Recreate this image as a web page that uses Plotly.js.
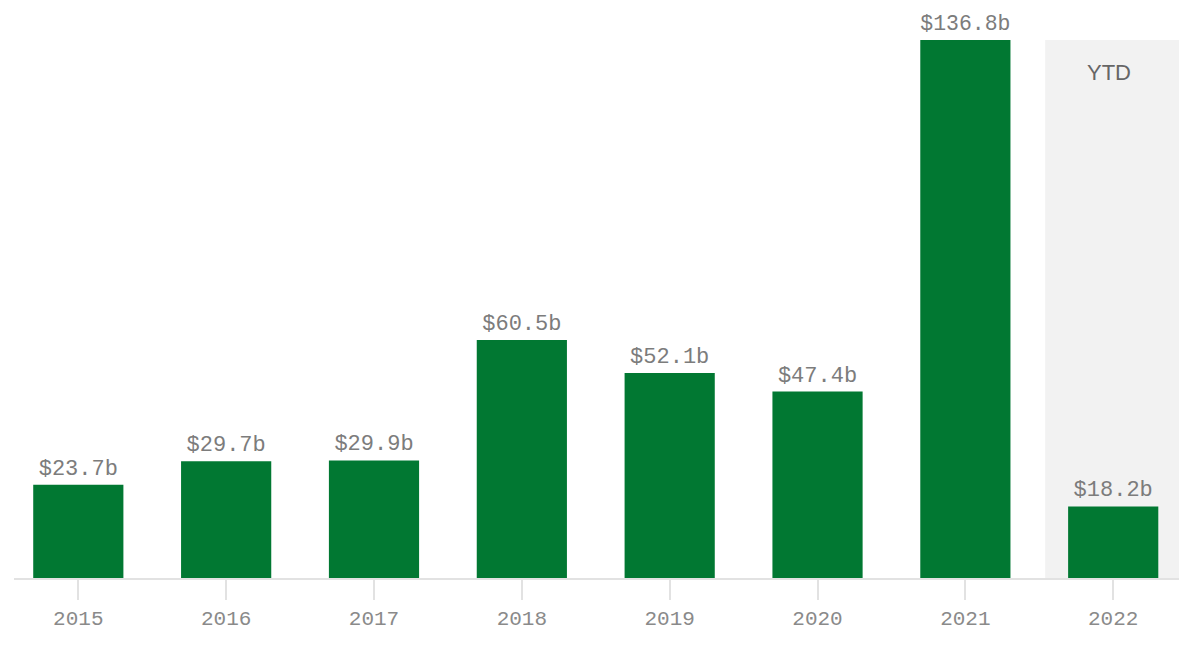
<!DOCTYPE html>
<html>
<head>
<meta charset="utf-8">
<script src="https://cdn.plot.ly/plotly-3.0.1.min.js"></script>
<style>html,body{margin:0;padding:0;background:#fff;}#chart{width:1200px;height:647px;}</style>
</head>
<body>
<div id="chart"></div>
<script>
const years = ["2015", "2016", "2017", "2018", "2019", "2020", "2021", "2022"];
const values = [23.7, 29.7, 29.9, 60.5, 52.1, 47.4, 136.8, 18.2];
const valueLabels = values.map(v => "$" + v.toFixed(1) + "b");
const ytdYear = "2022";
const ytdLabel = "YTD";

const trace = {
  type: "bar",
  x: years,
  y: values,
  text: valueLabels,
  textposition: "outside",
  cliponaxis: false,
  textfont: {family: "Liberation Mono, monospace", size: 22, color: "#7c7c7c"},
  marker: {color: "#017832"},
  width: 0.61,
  hoverinfo: "none"
};

const ytdIdx = years.indexOf(ytdYear);
const layout = {
  width: 1200, height: 647,
  margin: {l: 14, r: 21, t: 40, b: 69},
  paper_bgcolor: "#fff", plot_bgcolor: "rgba(0,0,0,0)",
  showlegend: false,
  xaxis: {
    type: "category",
    range: [-0.435, 7.445],
    showgrid: false, zeroline: false,
    showline: true, linecolor: "#e2e2e2", linewidth: 2,
    ticks: "outside", ticklen: 20, tickcolor: "#e2e2e2", tickwidth: 2,
    tickfont: {family: "Liberation Mono, monospace", size: 21, color: "#8a8a8a"}
  },
  yaxis: {
    range: [0, 136.8],
    visible: false, showgrid: false, zeroline: false, fixedrange: true
  },
  shapes: [{
    type: "rect", xref: "x", yref: "y", layer: "below",
    x0: ytdIdx - 0.46, x1: ytdIdx + 0.445, y0: 0, y1: 136.8,
    fillcolor: "#f2f2f2", line: {width: 0}
  }],
  annotations: [{
    xref: "x", yref: "y", x: ytdIdx - 0.03, y: 128.6,
    text: ytdLabel, showarrow: false,
    font: {family: "Liberation Sans, Arial, sans-serif", size: 22, color: "#666"}
  }]
};

Plotly.newPlot("chart", [trace], layout, {displayModeBar: false, staticPlot: true});
</script>
</body>
</html>
